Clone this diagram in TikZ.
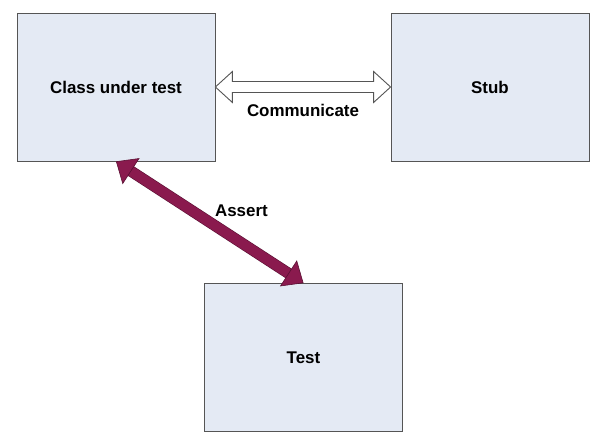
\documentclass[tikz,border=0pt]{standalone}
\usepackage{fontspec}
\setmainfont{Liberation Sans}
\usetikzlibrary{arrows.meta,calc}
\definecolor{boxfill}{HTML}{E4EAF4}
\definecolor{boxline}{HTML}{555555}
\definecolor{assertfill}{HTML}{8A1A4E}
\definecolor{assertline}{HTML}{5A1033}

\begin{document}
\begin{tikzpicture}[x=1bp,y=-1bp,
    unit/.style={draw=boxline,fill=boxfill,line width=0.8bp,
      minimum width=198bp,minimum height=148bp,
      font=\fontsize{17}{20}\selectfont\bfseries},
    lbl/.style={font=\fontsize{17}{20}\selectfont\bfseries},
    talk/.style={draw=boxline,fill=white,line width=0.9bp,line join=miter},
    check/.style={draw=assertfill,line width=10bp,
      {Triangle[length=18bp,width=31bp,line width=0.6bp,color=assertline,fill=assertfill]}-%
      {Triangle[length=18bp,width=31bp,line width=0.6bp,color=assertline,fill=assertfill]}}]
    \useasboundingbox (0,0) rectangle (592,440);
    \node[unit] (CUT)  at (116,87)      {Class under test};
    \node[unit] (Stub) at (490,87)      {Stub};
    \node[unit] (Test) at (303.5,357.5) {Test};
    % hollow double arrow between the two boxes
    \draw[talk] (CUT.east) -- ($(CUT.east)+(17,-15.5)$) -- ($(CUT.east)+(17,-5.5)$)
      -- ($(Stub.west)+(-17,-5.5)$) -- ($(Stub.west)+(-17,-15.5)$) -- (Stub.west)
      -- ($(Stub.west)+(-17,15.5)$) -- ($(Stub.west)+(-17,5.5)$)
      -- ($(CUT.east)+(17,5.5)$) -- ($(CUT.east)+(17,15.5)$) -- cycle;
    \node[lbl,below=14bp] (com) at ($(CUT.east)!0.5!(Stub.west)$) {Communicate};
    % outline under the shaft, then the arrow itself
    \draw[assertline,line width=11.2bp,shorten <=17bp,shorten >=17bp] (CUT.south) -- (Test.north);
    \path (CUT.south) edge[check] node[lbl,above right,xshift=-3bp,yshift=-3bp] {Assert} (Test.north);
\end{tikzpicture}
\end{document}
